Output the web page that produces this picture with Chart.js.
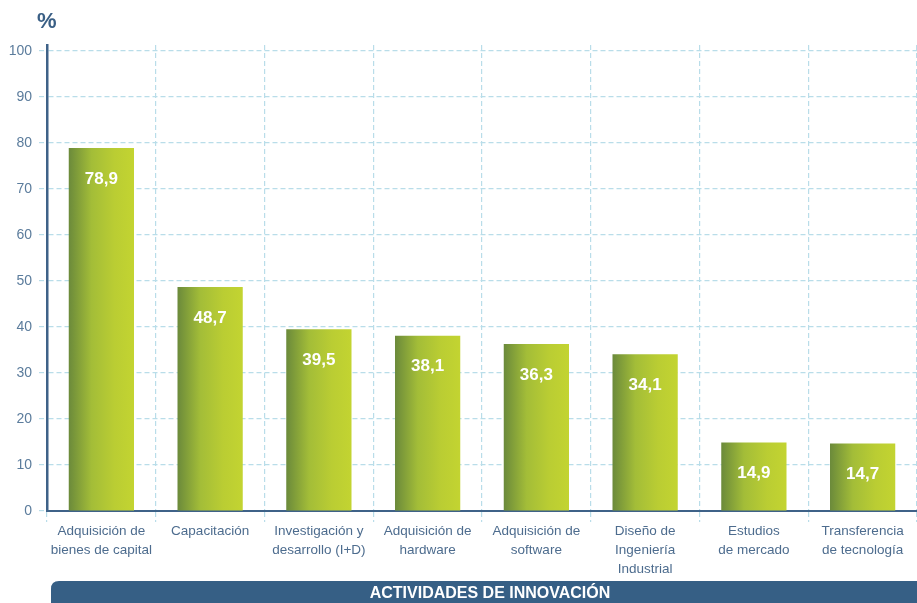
<!DOCTYPE html>
<html>
<head>
<meta charset="utf-8">
<script src="https://cdn.jsdelivr.net/npm/chart.js@4/dist/chart.umd.min.js"></script>
<style>
  html, body { margin: 0; padding: 0; background: #ffffff; }
  #wrap { width: 917px; height: 603px; position: relative; }
</style>
</head>
<body>
<div id="wrap"><canvas id="c"></canvas></div>
<script>
const categories = [
  ["Adquisición de", "bienes de capital"],
  ["Capacitación"],
  ["Investigación y", "desarrollo (I+D)"],
  ["Adquisición de", "hardware"],
  ["Adquisición de", "software"],
  ["Diseño de", "Ingeniería", "Industrial"],
  ["Estudios", "de mercado"],
  ["Transferencia", "de tecnología"]
];
const values = [78.9, 48.7, 39.5, 38.1, 36.3, 34.1, 14.9, 14.7];
const yTicks = [0, 10, 20, 30, 40, 50, 60, 70, 80, 90, 100];
const axisTitle = "%";
const bannerText = "ACTIVIDADES DE INNOVACIÓN";

const FONT = "'Liberation Sans', Arial, sans-serif";
const BAR_PCT = 0.6;
const GRID = '#b9dde9';

function barGradient(ctx) {
  const chart = ctx.chart;
  const xs = chart.scales && chart.scales.x;
  if (!xs || !chart.chartArea) return '#a8c03a';
  const cx = xs.getPixelForValue(ctx.dataIndex);
  const half = (xs.width / categories.length) * BAR_PCT / 2;
  const g = chart.ctx.createLinearGradient(cx - half, 0, cx + half, 0);
  g.addColorStop(0, '#6b8a3b');
  g.addColorStop(0.35, '#a3bd38');
  g.addColorStop(0.7, '#bacd33');
  g.addColorStop(1, '#c3d431');
  return g;
}

const decor = {
  id: 'decor',
  afterDatasetsDraw(chart) {
    const c = chart.ctx;
    const meta = chart.getDatasetMeta(0);
    c.save();
    c.fillStyle = '#ffffff';
    c.font = "bold 17px " + FONT;
    c.textAlign = 'center';
    c.textBaseline = 'middle';
    meta.data.forEach((bar, i) => {
      c.fillText(values[i].toFixed(1).replace('.', ','), bar.x, bar.y + 31);
    });
    c.restore();
  },
  afterDraw(chart) {
    const c = chart.ctx;
    c.save();
    c.fillStyle = '#3a5f85';
    c.font = "bold 22px " + FONT;
    c.textAlign = 'left';
    c.textBaseline = 'middle';
    c.fillText(axisTitle, 37, 22);
    const x0 = 51, y0 = 581, x1 = 940, y1 = 620, r = 8;
    c.fillStyle = '#365f85';
    c.beginPath();
    c.moveTo(x0 + r, y0);
    c.lineTo(x1, y0);
    c.lineTo(x1, y1);
    c.lineTo(x0, y1);
    c.lineTo(x0, y0 + r);
    c.quadraticCurveTo(x0, y0, x0 + r, y0);
    c.closePath();
    c.fill();
    c.fillStyle = '#ffffff';
    c.font = "bold 16px " + FONT;
    c.textAlign = 'center';
    c.fillText(bannerText, 490, 594);
    c.restore();
  }
};

new Chart(document.getElementById('c'), {
  type: 'bar',
  data: {
    labels: categories,
    datasets: [{
      data: values,
      backgroundColor: barGradient,
      borderWidth: 0,
      categoryPercentage: 1,
      barPercentage: BAR_PCT
    }]
  },
  options: {
    responsive: true,
    maintainAspectRatio: false,
    animation: false,
    layout: { padding: { top: 45, right: 0, left: 0, bottom: 0 } },
    plugins: { legend: { display: false }, tooltip: { enabled: false } },
    scales: {
      x: {
        offset: true,
        grid: {
          display: true,
          offset: true,
          color: GRID,
          lineWidth: 1.2,
          tickLength: 11,
          tickColor: GRID,
          tickBorderDash: [5, 3]
        },
        border: { display: true, color: '#3f6288', width: 2, dash: [5, 3] },
        ticks: {
          color: '#4d6c8e',
          font: { family: FONT, size: 13.5, lineHeight: 1.4 },
          padding: 0,
          maxRotation: 0,
          autoSkip: false
        },
        afterFit(scale) { scale.height = 92; }
      },
      y: {
        min: 0,
        max: 101.3,
        afterBuildTicks(scale) {
          scale.ticks = yTicks.map(v => ({ value: v }));
        },
        grid: {
          color: GRID,
          lineWidth: 1.2,
          tickLength: 8,
          tickColor: GRID,
          tickBorderDash: [5, 3]
        },
        border: { display: true, color: '#3f6288', width: 2.5, dash: [5, 3] },
        ticks: {
          color: '#5b7c9c',
          font: { family: FONT, size: 14 },
          padding: 7
        },
        afterFit(scale) { scale.width = 47; }
      }
    }
  },
  plugins: [decor]
});
</script>
</body>
</html>
